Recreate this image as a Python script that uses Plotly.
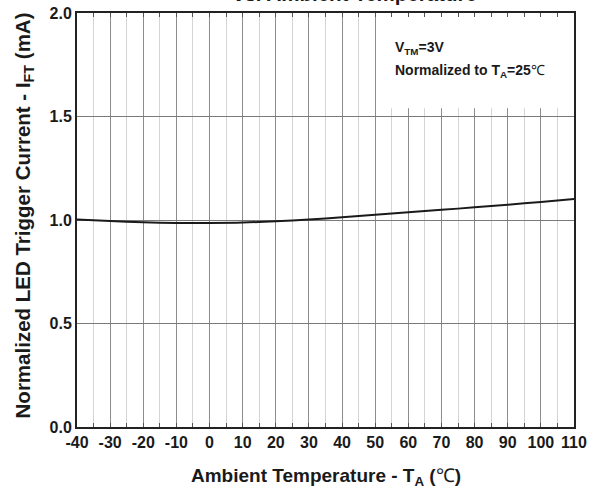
import plotly.graph_objects as go

temp_c = [-40, -30, -20, -10, 0, 10, 20, 30, 40, 50, 60, 70, 80, 90, 100, 110]
norm_ift = [1.003, 0.995, 0.989, 0.986, 0.986, 0.988, 0.994, 1.002, 1.013, 1.025,
            1.037, 1.049, 1.061, 1.074, 1.087, 1.101]
x_ticks = list(range(-40, 111, 10))
y_ticks = [0.0, 0.5, 1.0, 1.5, 2.0]

FONT = "Liberation Sans, Arial, sans-serif"

fig = go.Figure()
fig.add_trace(go.Scatter(
    x=temp_c, y=norm_ift, mode="lines",
    line=dict(color="#1a1a1a", width=2, shape="spline", smoothing=0.8),
    showlegend=False, hoverinfo="skip",
))

fig.update_layout(
    width=598, height=491,
    margin=dict(l=77, r=24, t=13, b=64, autoexpand=False),
    paper_bgcolor="white", plot_bgcolor="white",
    font=dict(family=FONT, color="#1a1a1a"),
    xaxis=dict(
        range=[-40, 110], tickvals=x_ticks, ticktext=[str(v) for v in x_ticks],
        showgrid=True, gridcolor="#8c8c8c", gridwidth=1,
        minor=dict(dtick=5, tick0=-40, showgrid=True, gridcolor="#d4d4d4", gridwidth=1,
                   ticks="inside", ticklen=4, tickcolor="#555"),
        ticks="inside", ticklen=4, tickcolor="#555",
        showline=True, linecolor="#222", linewidth=2, mirror="allticks",
        tickfont=dict(family=FONT, size=16, color="#1a1a1a", weight="bold"),
        zeroline=False, automargin=False,
    ),
    yaxis=dict(
        range=[0, 2.0], tickvals=y_ticks, ticktext=[f"{v:.1f}" for v in y_ticks],
        showgrid=True, gridcolor="#7a7a7a", gridwidth=1,
        ticks="", showline=True, linecolor="#222", linewidth=2, mirror=True,
        tickfont=dict(family=FONT, size=16, color="#1a1a1a", weight="bold"),
        zeroline=False, automargin=False,
    ),
)

fig.add_shape(type="rect", xref="x", yref="y", x0=50.4, x1=110, y0=1.54, y1=2.0,
              fillcolor="white", line=dict(width=0), layer="between")

# axis titles as annotations for exact placement
fig.add_annotation(
    xref="paper", yref="paper", x=0.5, y=0, xanchor="center", yanchor="middle",
    yshift=-50, showarrow=False,
    text="<b>Ambient Temperature - T<sub>A</sub> (</b>℃<b>)</b>",
    font=dict(family=FONT, size=19, color="#1a1a1a"),
)
fig.add_annotation(
    xref="paper", yref="paper", x=0, y=0.511, xanchor="center", yanchor="middle",
    xshift=-53, textangle=-90, showarrow=False,
    text="<b>Normalized LED Trigger Current - I<sub>FT</sub> (mA)</b>",
    font=dict(family=FONT, size=20.5, color="#1a1a1a"),
)

fig.add_annotation(
    xref="x", yref="y", x=55.3, y=1.83, xanchor="left", yanchor="middle",
    text="<b>V<sub>TM</sub>=3V</b>", showarrow=False,
    font=dict(family=FONT, size=14, color="#1a1a1a"),
)
fig.add_annotation(
    xref="x", yref="y", x=55.3, y=1.72, xanchor="left", yanchor="middle",
    text="<b>Normalized to T<sub>A</sub>=25</b>℃", showarrow=False,
    font=dict(family=FONT, size=14, color="#1a1a1a"),
)
fig.add_annotation(
    xref="paper", yref="paper", x=0.559, y=1.0, xanchor="center", yanchor="bottom",
    yshift=6, text="<b>vs. Ambient Temperature</b>", showarrow=False,
    font=dict(family=FONT, size=20.5, color="#1a1a1a"),
)

fig.write_html("out.html")
